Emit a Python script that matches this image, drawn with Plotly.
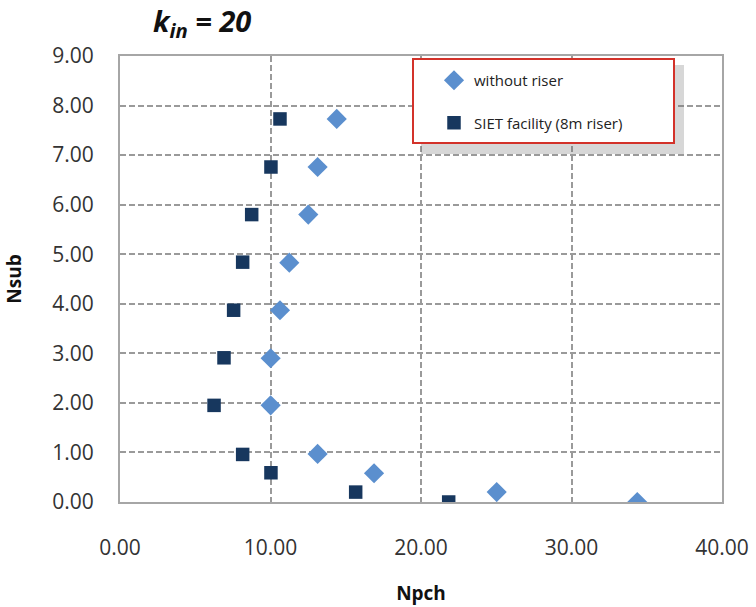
import plotly.graph_objects as go

# Data
nsub = [7.73, 6.76, 5.80, 4.83, 3.87, 2.90, 1.95, 0.97, 0.58, 0.20, 0.00]
npch_without_riser = [14.40, 13.13, 12.51, 11.25, 10.63, 10.01, 10.01, 13.13, 16.88, 25.03, 34.37]
nsub_siet = [7.73, 6.76, 5.80, 4.84, 3.87, 2.91, 1.95, 0.96, 0.59, 0.20, 0.00]
npch_siet = [10.63, 10.03, 8.75, 8.15, 7.55, 6.91, 6.25, 8.15, 10.03, 15.66, 21.84]

x_ticks = [0, 10, 20, 30, 40]
y_ticks = [0, 1, 2, 3, 4, 5, 6, 7, 8, 9]

fig = go.Figure()
fig.add_trace(go.Scatter(
    x=npch_without_riser, y=nsub, mode="markers", name="without riser",
    legendgroup="a",
    marker=dict(symbol="diamond", size=15.5, color="#5B8FCE", line=dict(width=0)),
))
fig.add_trace(go.Scatter(
    x=npch_siet, y=nsub_siet, mode="markers", name="SIET facility (8m riser)",
    legendgroup="b",
    marker=dict(symbol="square", size=13.5, color="#17375E", line=dict(width=0)),
))

W, H = 756, 607
L, R, T, B = 120, 34, 56, 104.5
pw, ph = W - L - R, H - T - B

def px_x(p):
    return (p - L) / pw

def px_y(p):
    return (H - B - p) / ph

# legend box (shadow + framed box)
bx0, bx1, by0, by1 = 413, 674, 59, 143
shapes = [
    dict(type="rect", xref="paper", yref="paper", layer="above",
         x0=px_x(bx0 + 8), x1=px_x(bx1 + 10), y0=px_y(by1 + 11), y1=px_y(by0 + 6),
         fillcolor="rgba(110,110,110,0.28)", line=dict(width=0)),
    dict(type="rect", xref="paper", yref="paper", layer="above",
         x0=px_x(bx0), x1=px_x(bx1), y0=px_y(by1), y1=px_y(by0),
         fillcolor="white", line=dict(color="#D3322A", width=2)),
]

fig.update_layout(
    width=W, height=H,
    margin=dict(l=L, r=R, t=T, b=B, autoexpand=False),
    paper_bgcolor="white", plot_bgcolor="white",
    font=dict(family="Open Sans", color="#333333"),
    title=dict(
        text="<b><i>k<sub>in</sub> = 20</i></b>",
        font=dict(family="Open Sans", size=29, color="#111111"),
        xref="paper", x=px_x(153), xanchor="left",
        yref="container", y=1 - 22 / H, yanchor="middle",
        automargin=False,
    ),
    xaxis=dict(
        range=[0, 40], tickvals=x_ticks, tickformat=".2f",
        showgrid=True, gridcolor="#9A9A9A", gridwidth=2, griddash="6px,3px",
        showline=True, linecolor="#A6A6A6", linewidth=2, mirror=True,
        zeroline=False, ticks="", ticklabelstandoff=26, automargin=False,
        tickfont=dict(size=21, color="#333333"),
        title=dict(text="<b>Npch</b>", font=dict(size=19, color="#111111"), standoff=26),
    ),
    yaxis=dict(
        range=[0, 9], tickvals=y_ticks, tickformat=".2f",
        showgrid=True, gridcolor="#9A9A9A", gridwidth=2, griddash="6px,3px",
        showline=True, linecolor="#A6A6A6", linewidth=2, mirror=True,
        zeroline=False, ticks="", ticklabelstandoff=20, automargin=False,
        tickfont=dict(size=21, color="#333333"),
        title=dict(text="<b>Nsub</b>", font=dict(size=19, color="#111111"), standoff=26),
    ),
    showlegend=True,
    legend=dict(
        x=px_x(434), xanchor="left", y=px_y(64), yanchor="top",
        bgcolor="rgba(0,0,0,0)", borderwidth=0,
        font=dict(size=15, color="#222222"),
        tracegroupgap=20,
    ),
    shapes=shapes,
)

fig.write_html("out.html", config={"displayModeBar": False},
               post_script="document.body.style.margin='0';")
